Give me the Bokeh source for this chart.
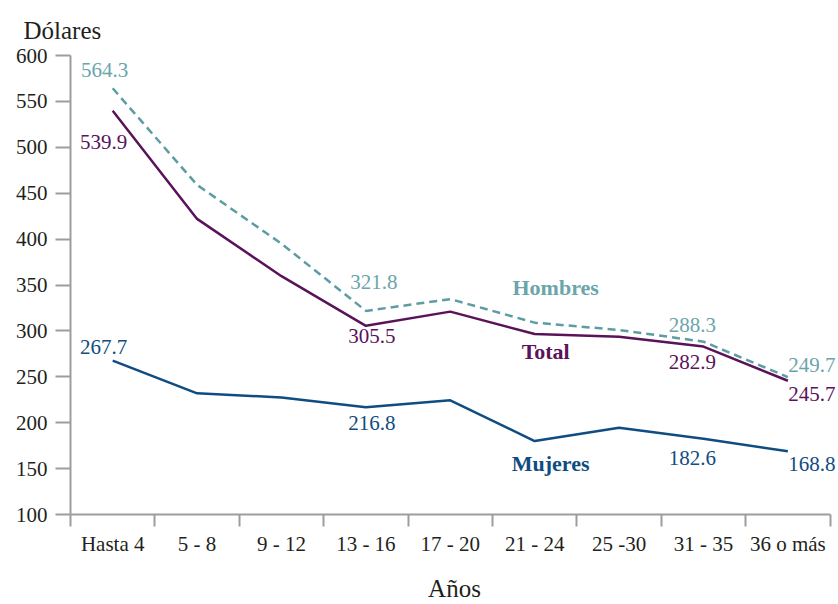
from bokeh.plotting import figure
from bokeh.models import Range1d, LinearAxis, FixedTicker, Label, CustomJSTickFormatter, Title
from bokeh.embed import file_html
from bokeh.resources import INLINE

# ---- data ----
categories = ["Hasta 4", "5 - 8", "9 - 12", "13 - 16", "17 - 20", "21 - 24", "25 -30", "31 - 35", "36 o más"]
hombres = [564.3, 459.0, 395.0, 321.8, 334.6, 309.0, 301.0, 288.3, 249.7]
total = [539.9, 422.0, 359.6, 305.5, 321.0, 296.6, 293.7, 282.9, 245.7]
mujeres = [267.7, 232.0, 227.5, 216.8, 224.4, 180.0, 194.4, 182.6, 168.8]
y_ticks = [100, 150, 200, 250, 300, 350, 400, 450, 500, 550, 600]
labeled_idx = [0, 3, 7, 8]
series_names = ["Hombres", "Total", "Mujeres"]

# category positions: centre of each category slot on a numeric axis
xpos = [i + 0.5 for i in range(len(categories))]
bounds = list(range(len(categories) + 1))

# ---- style ----
FONT = "Liberation Serif"
TXT = "#231f20"
AX = "#9d9d9f"
C_H_LINE = "#5d9ca3"
C_H_TXT = "#6aa5ab"
C_T = "#5a1259"
C_M = "#0f4c81"

p = figure(x_range=Range1d(0, len(categories) + 0.1), y_range=Range1d(100, 600),
           width=838, height=604, output_backend="svg", toolbar_location=None,
           x_axis_location=None, y_axis_location=None,
           min_border_left=70, min_border_right=0, min_border_top=55, min_border_bottom=89)
p.outline_line_color = None
p.grid.visible = False
p.background_fill_color = "white"
p.border_fill_color = "white"

# title used as the y-axis caption at the top left
p.title = Title(text="Dólares", align="left", vertical_align="top", offset=-47, standoff=20,
                text_font=FONT, text_font_size="25px", text_font_style="normal",
                text_color=TXT)

# y axis
yax = LinearAxis(ticker=FixedTicker(ticks=y_ticks))
yax.axis_line_color = AX
yax.axis_line_width = 2
yax.major_tick_line_color = AX
yax.major_tick_line_width = 2
yax.major_tick_out = 15
yax.major_tick_in = 0
yax.minor_tick_line_color = None
yax.major_label_text_font = FONT
yax.major_label_text_font_size = "21px"
yax.major_label_text_color = TXT
yax.major_label_standoff = 8
p.add_layout(yax, "left")

# boundary ticks axis (x axis line + ticks between categories)
bax = LinearAxis(ticker=FixedTicker(ticks=bounds), bounds=(bounds[0], bounds[-1]))
bax.axis_line_color = AX
bax.axis_line_width = 2
bax.major_tick_line_color = AX
bax.major_tick_line_width = 2
bax.major_tick_out = 12
bax.major_tick_in = 0
bax.minor_tick_line_color = None
bax.major_label_text_font_size = "0px"
bax.major_label_standoff = 0
bax.formatter = CustomJSTickFormatter(code="return ''")
p.add_layout(bax, "below")

# category labels axis (+ "Años" caption)
cax = LinearAxis(ticker=FixedTicker(ticks=xpos), bounds=(bounds[0], bounds[-1]))
cax.major_label_overrides = {x: c for x, c in zip(xpos, categories)}
cax.axis_line_color = None
cax.major_tick_line_color = None
cax.minor_tick_line_color = None
cax.major_tick_out = 0
cax.major_tick_in = 0
cax.major_label_text_font = FONT
cax.major_label_text_font_size = "21px"
cax.major_label_text_color = TXT
cax.major_label_standoff = 5
cax.axis_label = "Años"
cax.axis_label_text_font = FONT
cax.axis_label_text_font_size = "25px"
cax.axis_label_text_font_style = "normal"
cax.axis_label_text_color = TXT
cax.axis_label_standoff = 16
p.add_layout(cax, "below")

# lines
p.line(xpos, hombres, line_color=C_H_LINE, line_width=2.5, line_dash="8 5")
p.line(xpos, total, line_color=C_T, line_width=2.5)
p.line(xpos, mujeres, line_color=C_M, line_width=2.5)

# value labels
offsets = {
    "h": {0: (-8, 18), 3: (8, 29), 7: (-11, 17), 8: (24, 12)},
    "t": {0: (-9, -31), 3: (6, -10), 7: (-11, -15), 8: (24, -13)},
    "m": {0: (-9, 14), 3: (6, -16), 7: (-11, -19), 8: (24, -13)},
}
for key, vals, col in [("h", hombres, C_H_TXT), ("t", total, C_T), ("m", mujeres, C_M)]:
    for i in labeled_idx:
        dx, dy = offsets[key][i]
        p.add_layout(Label(x=xpos[i], y=vals[i], text=f"{vals[i]:.1f}",
                           x_offset=dx, y_offset=dy, text_align="center", text_baseline="middle",
                           text_font=FONT, text_font_size="21px", text_color=col))

# series names
name_pos = [(21, 347.8, C_H_TXT), (11, 277.2, C_T), (16, 155.4, C_M)]
for name, (dx, yv, col) in zip(series_names, name_pos):
    p.add_layout(Label(x=xpos[5], y=yv, text=name, x_offset=dx, text_align="center",
                       text_baseline="middle", text_font=FONT, text_font_size="22px",
                       text_font_style="bold", text_color=col))

open("out.html", "w").write(file_html(p, INLINE))
